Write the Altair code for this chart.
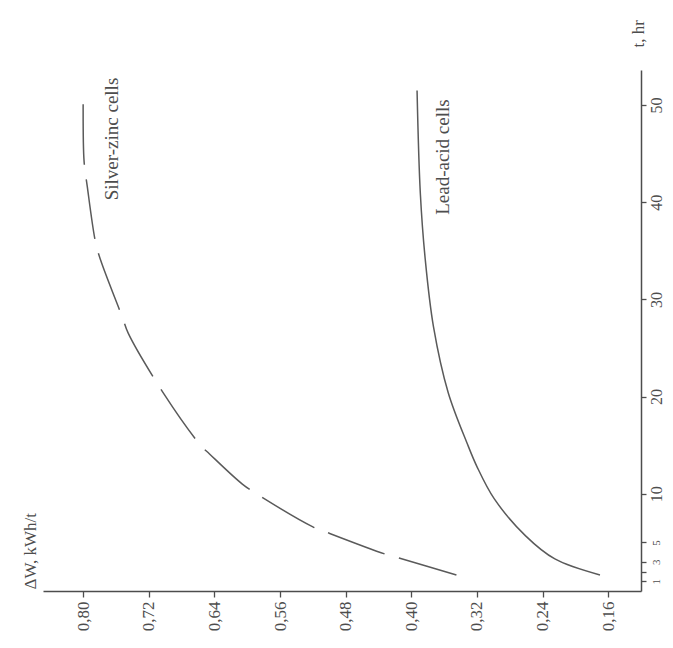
import altair as alt
import pandas as pd

# Silver-zinc cells (dashed curve): t in hours, dW in kWh/t
sz_t = [1.65, 3.4, 3.8, 6.1, 6.6, 9.8, 11.0, 14.1, 15.0, 20.2, 26.5, 28.1, 34.1, 35.9, 41.6, 44.3, 51.3]
sz_w = [0.345, 0.415, 0.432, 0.505, 0.520, 0.585, 0.606, 0.646, 0.657, 0.701, 0.745, 0.752, 0.779, 0.785, 0.795, 0.799, 0.800]

# Lead-acid cells (solid curve)
la_t = [1.65, 3.3, 5.7, 9.5, 12.8, 15.2, 20.4, 27.2, 34.1, 40.9, 51.5]
la_w = [0.170, 0.225, 0.261, 0.299, 0.320, 0.332, 0.355, 0.373, 0.383, 0.389, 0.393]

w_ticks = [0.16, 0.24, 0.32, 0.40, 0.48, 0.56, 0.64, 0.72, 0.80]
t_ticks = [1, 2, 3, 5, 10, 20, 30, 40, 50]

label_names = ["Silver-zinc cells", "Lead-acid cells"]
label_w = [0.765, 0.361]
label_t = [40.2, 38.7]

FONT = "Liberation Serif"
INK = "#4d4d4d"

sz = pd.DataFrame({"t": sz_t, "w": sz_w})
la = pd.DataFrame({"t": la_t, "w": la_w})
lab = pd.DataFrame({"name": label_names, "w": label_w, "t": label_t})

xscale = alt.Scale(domain=[0.12, 0.849], reverse=True, nice=False, zero=False)
yscale = alt.Scale(domain=[0, 53.6], nice=False, zero=False)

xaxis = alt.Axis(
    values=w_ticks,
    labelExpr="replace(format(datum.value, '.2f'), '.', ',')",
    labelAngle=270, labelAlign="right", labelBaseline="middle",
    labelPadding=4, tickSize=6, grid=False,
    title="ΔW, kWh/t", titleAngle=270, titleAlign="left", titleBaseline="middle",
    titleX=-13, titleY=-2,
)
yaxis = alt.Axis(
    orient="right",
    values=t_ticks,
    labelExpr="datum.value == 2 ? '' : datum.label",
    labelAngle=270, labelAlign="center", labelBaseline="middle",
    labelPadding=10, tickSize=5, grid=False, labelOverlap=False,
    labelFontSize={"condition": {"test": "datum.value <= 5", "value": 11}, "value": 16},
    title="t, hr", titleAngle=270, titleAlign="left", titleBaseline="middle",
    titleX=-3, titleY=-23,
)

x = alt.X("w:Q", scale=xscale, axis=xaxis)
y = alt.Y("t:Q", scale=yscale, axis=yaxis)

sz_line = alt.Chart(sz).mark_line(
    color="#5a5a5a", strokeWidth=1.5, strokeDash=[60, 15], interpolate="catmull-rom"
).encode(x=x, y=y, order="t:Q")

la_line = alt.Chart(la).mark_line(
    color="#5a5a5a", strokeWidth=1.5, interpolate="catmull-rom"
).encode(x=x, y=y, order="t:Q")

labels = alt.Chart(lab).mark_text(
    angle=270, align="left", baseline="middle", font=FONT, fontSize=19, color=INK
).encode(x=alt.X("w:Q", scale=xscale), y=alt.Y("t:Q", scale=yscale), text="name:N")

chart = alt.layer(sz_line, la_line, labels).properties(
    width=598, height=521,
    autosize=alt.AutoSizeParams(type="none"),
    padding={"left": 35, "top": 62, "right": 24, "bottom": 49},
    background="white",
).configure_view(stroke=None).configure_axis(
    domainColor=INK, domainWidth=1.5, tickColor=INK, tickWidth=1.3,
    labelColor=INK, labelFont=FONT, labelFontSize=17,
    titleColor=INK, titleFont=FONT, titleFontSize=17, titleFontWeight="normal",
)

chart.save("out.html", embed_options={"renderer": "svg", "actions": False})
